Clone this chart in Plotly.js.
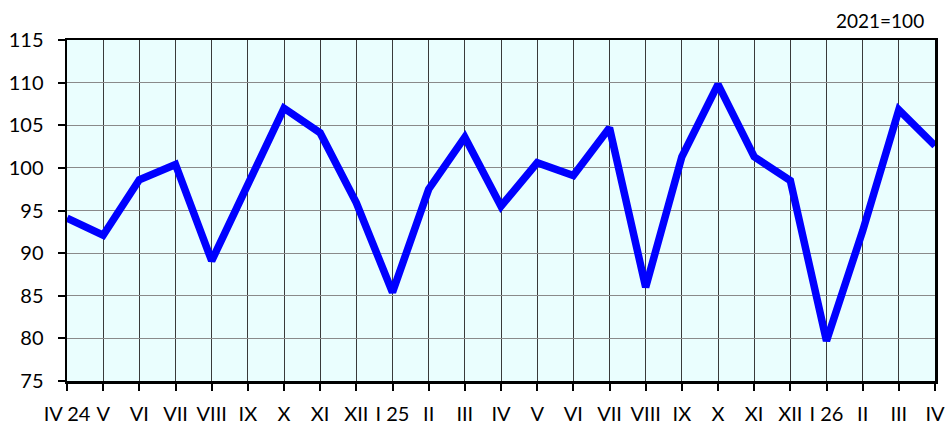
<!DOCTYPE html>
<html>
<head>
<meta charset="utf-8">
<script src="https://cdn.plot.ly/plotly-3.0.1.min.js"></script>
<style>
html,body{margin:0;padding:0;background:#fff;}
#chart{width:945px;height:423px;}
</style>
</head>
<body>
<div id="chart"></div>
<script>
var categories = ["IV 24","V","VI","VII","VIII","IX","X","XI","XII","I 25","II","III","IV","V","VI","VII","VIII","IX","X","XI","XII","I 26","II","III","IV"];
var values = [94.1,92.1,98.6,100.4,89.1,98.3,107.0,104.1,95.9,85.4,97.5,103.6,95.5,100.6,99.1,104.7,86.0,101.3,109.8,101.3,98.5,79.7,92.6,106.8,102.6];
var yTicks = [75,80,85,90,95,100,105,110,115];
var baseNote = "2021=100";

var positions = categories.map(function(_, i){ return i; });

var trace = {
  x: positions,
  y: values,
  type: "scatter",
  mode: "lines",
  line: {color: "#0000ff", width: 7.5},
  hoverinfo: "skip"
};

var fontFam = "Lato, Liberation Sans, Arial, sans-serif";

var layout = {
  width: 945,
  height: 423,
  margin: {l: 67, r: 10, t: 40, b: 42, pad: 0},
  paper_bgcolor: "#ffffff",
  plot_bgcolor: "#eafefe",
  showlegend: false,
  font: {family: fontFam, size: 20, color: "#000"},
  xaxis: {
    range: [0, categories.length - 1],
    tickvals: positions,
    ticktext: categories,
    tickmode: "array",
    showgrid: true,
    gridcolor: "#3a3a3a",
    gridwidth: 1,
    zeroline: false,
    showline: true,
    linecolor: "#000",
    linewidth: 2.5,
    mirror: true,
    ticks: "outside",
    ticklen: 7,
    tickwidth: 2,
    tickcolor: "#000",
    ticklabelstandoff: 6,
    ticklabeloverflow: "allow",
    tickfont: {family: fontFam, size: 20, color: "#000"},
    tickangle: 0,
    fixedrange: true
  },
  yaxis: {
    range: [75, 115],
    tickvals: yTicks,
    ticktext: yTicks.map(String),
    tickmode: "array",
    showgrid: true,
    gridcolor: "#8a8a8a",
    gridwidth: 1,
    zeroline: false,
    showline: true,
    linecolor: "#000",
    linewidth: 2.5,
    mirror: true,
    ticks: "outside",
    ticklen: 7,
    tickwidth: 2,
    tickcolor: "#000",
    ticklabelstandoff: 10,
    tickfont: {family: fontFam, size: 20, color: "#000"},
    fixedrange: true
  },
  annotations: [{
    text: baseNote,
    xref: "paper", yref: "paper",
    x: 0.99, y: 1,
    xanchor: "right", yanchor: "bottom",
    yshift: 6,
    showarrow: false,
    font: {family: fontFam, size: 19, color: "#000"}
  }]
};

Plotly.newPlot("chart", [trace], layout, {displayModeBar: false, staticPlot: true});
</script>
</body>
</html>
